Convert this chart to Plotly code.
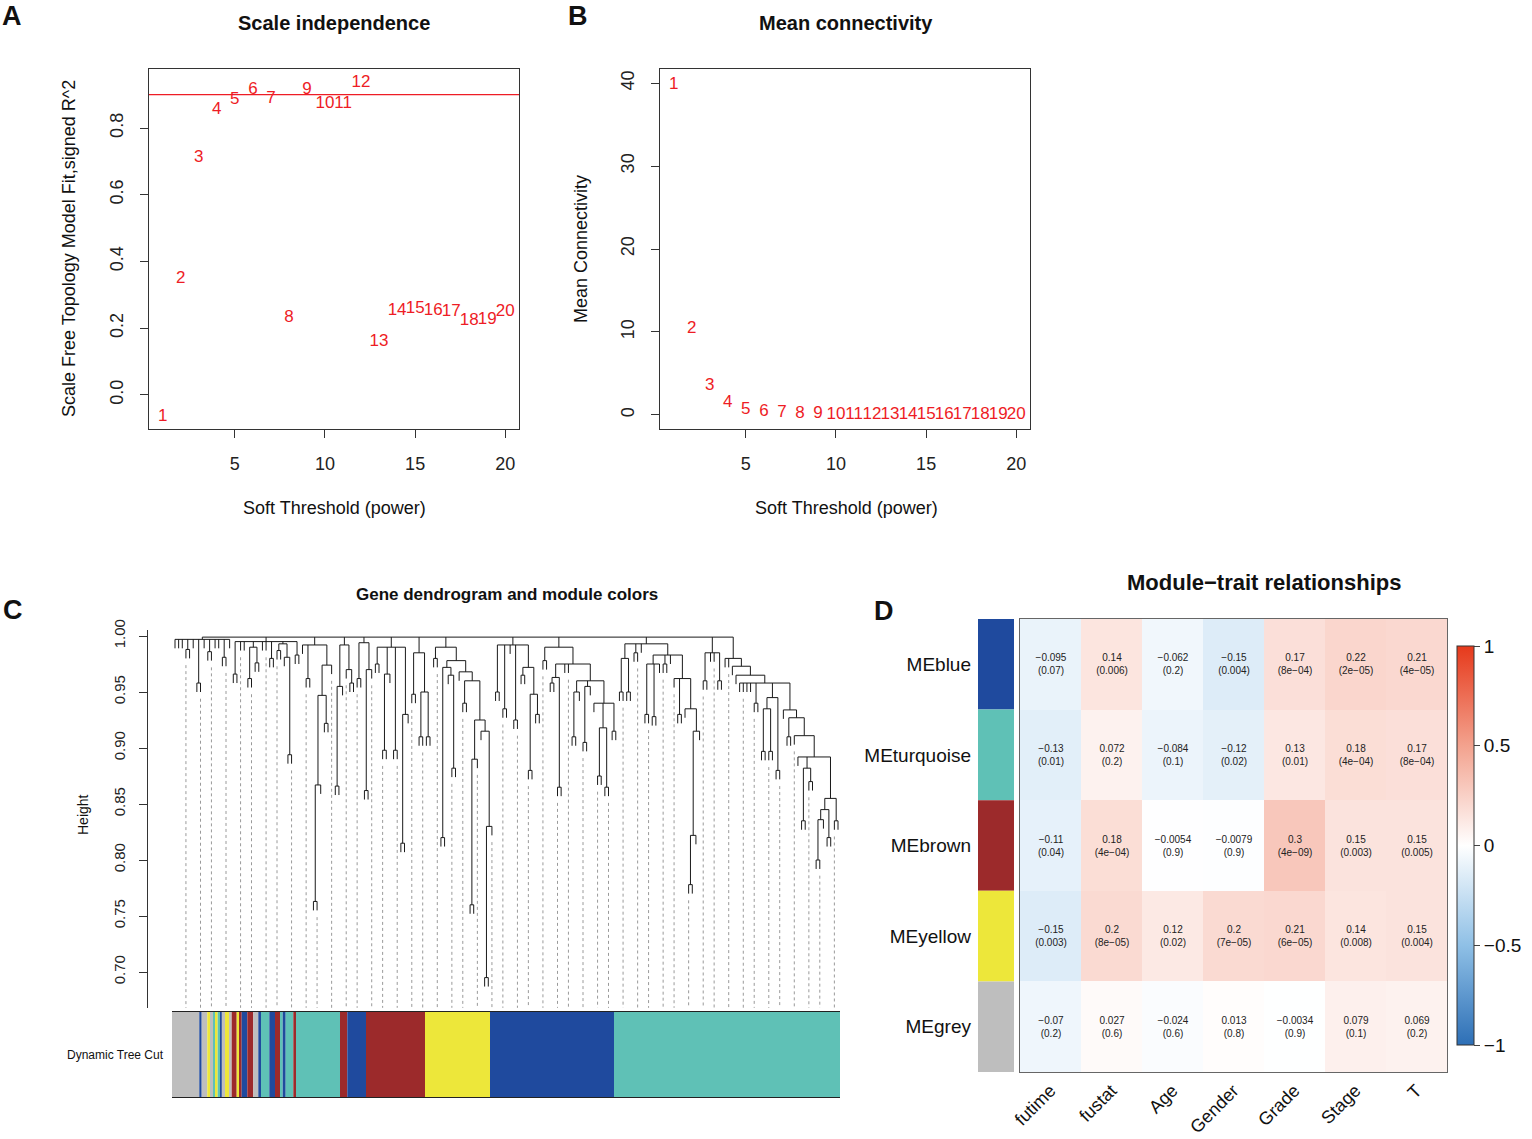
"""WGCNA summary figure: soft threshold, mean connectivity, dendrogram, module-trait heatmap."""

import plotly.graph_objects as go

W, H = 1532, 1139
FONT = "Liberation Sans"

# ---- panel A / B data (soft threshold scan)
powers = list(range(1, 21))
sft_r2 = [-0.064, 0.347, 0.712, 0.854, 0.884, 0.915, 0.887, 0.230, 0.915, 0.874,
          0.874, 0.935, 0.159, 0.253, 0.259, 0.252, 0.248, 0.222, 0.225, 0.250]
mean_k = [39.8, 10.4, 3.56, 1.41, 0.62, 0.34, 0.21, 0.13, 0.09, 0.06,
          0.05, 0.04, 0.03, 0.03, 0.02, 0.02, 0.02, 0.01, 0.01, 0.01]
r2_cut = 0.90

# ---- panel C data: gene tree (x = leaf, "(...)h" = merge at height h)
tree_groups = [
    "(x,x,x,(x,x)0.988,x,(x,x)0.958,x,(x,x)0.986,x,x,(x,x)0.981,x)0.997",
    "((x,x)0.966,x,x,((x,x)0.962,(x,x)0.976)0.990,x,x,(x,x)0.980,((x,x)0.987,(x,(x,x)0.894)0.981)0.993,(x,x)0.983)0.995",
    "(x,(x,x)0.962,((((x,x)0.763,x)0.867,(x,x)0.922)0.947,x)0.974)0.992",
    "(((x,x)0.866,x)0.955,(x,(x,x)0.958)0.97)0.992",
    "((x,x)0.962,((x,x)0.862,x)0.97)0.994",
    "((x,x)0.975,((x,x)0.898,x)0.966,(x,x)0.898,((x,x)0.815,x)0.93)0.99",
    "((x,x)0.948,((x,x)0.91,(x,x)0.91)0.95)0.985",
    "((x,x)0.98,(((x,x)0.82,(x,(x,x)0.882)0.965)0.972,(x,((x,x)0.94,(((x,x)0.76,x)0.89,(x,((x,x)0.695,x)0.83)0.915)0.925)0.96)0.968)0.978)0.99",
    "((x,x)0.95,(x,x)0.935,x,(x,x)0.925,((x,x)0.965,((x,x)0.88,(x,x)0.93)0.948)0.972)0.992",
    "((x,x)0.978,(((x,x)0.958,(x,x)0.865)0.963,x,x,(((x,x)0.91,x)0.95,((x,x)0.905,x)0.955,(x,((x,x)0.875,(x,x)0.865)0.918,(x,x)0.915)0.94)0.96)0.975)0.99",
    "(((x,x)0.95,(x,x)0.95)0.98,(x,x)0.985,x,(((x,x)0.93,(x,x)0.928,x)0.975,(x,x)0.975,x,(x,(x,x)0.93,(x,(((x,x)0.778,x)0.822,x)0.915)0.935)0.962)0.983)0.993",
    "((x,x)0.96,x,x,(x,x)0.96)0.985",
    "(x,x,(x,(x,(x,x,x,x,(x,x)0.94,(((x,x)0.897,(x,x)0.897)0.935,(x,x)0.88)0.945,(x,((x,x)0.91,(x,(x,((x,x)0.835,(x,x)0.87)0.882,((((x,x)0.80,x)0.836,(x,x)0.82)0.845,(x,x)0.835)0.855)0.892)0.911)0.927)0.934)0.958)0.965)0.973)0.98",
]
root_height = 0.999
leaf_hang = 0.008

cut_colors = ["grey", "blue", "grey", "yellow", "grey", "turquoise", "yellow", "turquoise",
              "blue", "grey", "yellow", "grey", "brown", "yellow", "brown", "blue", "brown",
              "grey", "blue", "turquoise", "blue", "brown", "turquoise", "blue", "turquoise",
              "brown", "turquoise", "brown", "blue", "brown", "yellow", "blue", "turquoise"]
cut_widths = [27.3, 2.4, 5.6, 2.7, 3.3, 1.7, 2.7, 2.3, 1.7, 3.3, 4.0, 2.7, 5.0, 2.3, 2.7,
              5.6, 6.0, 5.0, 2.7, 8.3, 5.7, 5.0, 2.7, 3.0, 7.6, 2.7, 44.0, 7.3, 18.7,
              59.0, 65.0, 124.0, 226.0]

# ---- panel D data
traits = ["futime", "fustat", "Age", "Gender", "Grade", "Stage", "T"]
modules = ["MEblue", "MEturquoise", "MEbrown", "MEyellow", "MEgrey"]
module_names = ["blue", "turquoise", "brown", "yellow", "grey"]
cor_blue = [-0.095, 0.14, -0.062, -0.15, 0.17, 0.22, 0.21]
cor_turquoise = [-0.13, 0.072, -0.084, -0.12, 0.13, 0.18, 0.17]
cor_brown = [-0.11, 0.18, -0.0054, -0.0079, 0.3, 0.15, 0.15]
cor_yellow = [-0.15, 0.2, 0.12, 0.2, 0.21, 0.14, 0.15]
cor_grey = [-0.07, 0.027, -0.024, 0.013, -0.0034, 0.079, 0.069]
p_blue = ["0.07", "0.006", "0.2", "0.004", "8e-04", "2e-05", "4e-05"]
p_turquoise = ["0.01", "0.2", "0.1", "0.02", "0.01", "4e-04", "8e-04"]
p_brown = ["0.04", "4e-04", "0.9", "0.9", "4e-09", "0.003", "0.005"]
p_yellow = ["0.003", "8e-05", "0.02", "7e-05", "6e-05", "0.008", "0.004"]
p_grey = ["0.2", "0.6", "0.6", "0.8", "0.9", "0.1", "0.2"]

MODULE_HEX = {"blue": "#1F4A9E", "turquoise": "#5FC1B6", "brown": "#9C2A2B",
              "yellow": "#EDE73A", "grey": "#BEBEBE"}
RED = "#EE1C25"


def fx(px):
    return px / W


def fy(py):
    return 1 - py / H


def parse_tree(s, i=0):
    """tiny parser for the nested tree strings"""
    if s[i] == "x":
        return None, i + 1
    i += 1
    kids = []
    while True:
        node, i = parse_tree(s, i)
        kids.append(node)
        if s[i] == ",":
            i += 1
            continue
        i += 1
        break
    j = i
    while j < len(s) and (s[j].isdigit() or s[j] == "."):
        j += 1
    return (float(s[i:j]), kids), j


root, _ = parse_tree("(" + ",".join(tree_groups) + ")" + str(root_height))

seg_x, seg_y = [], []
leaf_bottom = []


def draw(node):
    if node is None:
        leaf_bottom.append(None)
        return len(leaf_bottom) - 1, None
    h, kids = node
    placed = [draw(k) for k in kids]
    seg_x.extend([placed[0][0], placed[-1][0], None])
    seg_y.extend([h, h, None])
    for xk, hk in placed:
        if hk is None:
            hk = h - leaf_hang
            leaf_bottom[xk] = hk
        seg_x.extend([xk, xk, None])
        seg_y.extend([h, hk, None])
    return (placed[0][0] + placed[-1][0]) / 2, h


draw(root)
n_leaf = len(leaf_bottom)

# guide lines like WGCNA's addGuide
guide_x, guide_y = [], []
for k in range(50):
    idx = int(round(3 + k * (n_leaf - 5) / 49))
    guide_x.extend([idx, idx, None])
    guide_y.extend([leaf_bottom[idx] - 0.006, 0.668, None])

fig = go.Figure()

# A: scale independence
fig.add_trace(go.Scatter(x=powers, y=sft_r2, mode="text", text=[str(p) for p in powers],
                         textfont=dict(size=17, color=RED), xaxis="x", yaxis="y"))
fig.add_shape(type="line", xref="x domain", yref="y", x0=0, x1=1, y0=r2_cut, y1=r2_cut,
              line=dict(color=RED, width=1.3))

# B: mean connectivity
fig.add_trace(go.Scatter(x=powers, y=mean_k, mode="text", text=[str(p) for p in powers],
                         textfont=dict(size=17, color=RED), xaxis="x2", yaxis="y2"))

# C: dendrogram
fig.add_trace(go.Scatter(x=guide_x, y=guide_y, mode="lines", xaxis="x3", yaxis="y3",
                         line=dict(color="#9a9a9a", width=1, dash="dot"), hoverinfo="skip"))
fig.add_trace(go.Scatter(x=seg_x, y=seg_y, mode="lines", xaxis="x3", yaxis="y3",
                         line=dict(color="#1a1a1a", width=1), hoverinfo="skip"))

starts = [sum(cut_widths[:i]) for i in range(len(cut_widths))]
fig.add_trace(go.Bar(orientation="h", y=[0] * len(cut_widths), x=cut_widths, base=starts,
                     width=1, marker=dict(color=[MODULE_HEX[c] for c in cut_colors], line_width=0),
                     xaxis="x4", yaxis="y4"))

# D: module-trait heatmap
cors = [cor_blue, cor_turquoise, cor_brown, cor_yellow, cor_grey]
pvals = [p_blue, p_turquoise, p_brown, p_yellow, p_grey]
cell_text = [[(f"{c}<br>({p})").replace("-", "\u2212") for c, p in zip(rc, rp)]
             for rc, rp in zip(cors, pvals)]
colorscale = [[0.0, "#2D6FB6"], [0.25, "#8FC0E6"], [0.5, "#FFFFFF"],
              [0.75, "#F3A28E"], [1.0, "#E6391B"]]
fig.add_trace(go.Heatmap(
    z=cors, x=list(range(len(traits))), y=list(range(len(modules))),
    text=cell_text, texttemplate="%{text}", textfont=dict(size=10, color="#222"),
    colorscale=colorscale, zmin=-1, zmax=1, xaxis="x5", yaxis="y5",
    colorbar=dict(x=fx(1457), xanchor="left", y=fy(845.5), yanchor="middle",
                  len=399 / H, lenmode="fraction", thickness=17, xpad=0, ypad=0,
                  outlinewidth=1, outlinecolor="#333", ticks="outside", ticklen=6,
                  tickvals=[-1, -0.5, 0, 0.5, 1],
                  ticktext=["\u22121", "\u22120.5", "0", "0.5", "1"],
                  tickfont=dict(size=19, color="#111")),
))
fig.add_trace(go.Bar(x=[0] * len(modules), y=[1] * len(modules),
                     base=list(range(len(modules))), width=1,
                     marker=dict(color=[MODULE_HEX[m] for m in module_names], line_width=0),
                     xaxis="x6", yaxis="y6"))

box = dict(showline=True, mirror=True, linecolor="#333", linewidth=1.2,
           showgrid=False, zeroline=False)
tick18 = dict(ticks="outside", ticklen=8, tickcolor="#333", tickfont=dict(size=18, color="#222"))

# dendrogram x range so leaves sit between px 175 and 838
sp = (838 - 175) / (n_leaf - 1)
x3_range = [-(175 - 148) / sp, n_leaf - 1 + (845 - 838) / sp]

fig.update_layout(
    width=W, height=H, margin=dict(l=0, r=0, t=0, b=0, autoexpand=False),
    paper_bgcolor="white", plot_bgcolor="white", showlegend=False, barmode="overlay",
    font=dict(family=FONT, color="#111"),
    xaxis=dict(domain=[fx(149), fx(519)], range=[0.24, 20.76], tickvals=[5, 10, 15, 20],
               ticklabelstandoff=10, anchor="y", **box, **tick18),
    yaxis=dict(domain=[fy(429), fy(69)], range=[-0.102, 0.977],
               tickvals=[0, 0.2, 0.4, 0.6, 0.8], ticktext=["0.0", "0.2", "0.4", "0.6", "0.8"],
               tickangle=-90, ticklabelstandoff=10, anchor="x", **box, **tick18),
    xaxis2=dict(domain=[fx(660), fx(1030)], range=[0.24, 20.76], tickvals=[5, 10, 15, 20],
                ticklabelstandoff=10, anchor="y2", **box, **tick18),
    yaxis2=dict(domain=[fy(429), fy(69)], range=[-1.7, 41.7], tickvals=[0, 10, 20, 30, 40],
                tickangle=-90, ticklabelstandoff=10, anchor="x2", **box, **tick18),
    xaxis3=dict(domain=[fx(148), fx(845)], range=x3_range, visible=False, anchor="y3"),
    yaxis3=dict(domain=[fy(1008), fy(630)], range=[1 - 372 / 1120, 1 + 6 / 1120],
                tickvals=[0.70, 0.75, 0.80, 0.85, 0.90, 0.95, 1.00],
                ticktext=["0.70", "0.75", "0.80", "0.85", "0.90", "0.95", "1.00"],
                tickangle=-90, ticks="outside", ticklen=8, tickcolor="#333",
                tickfont=dict(size=15, color="#222"), ticklabelstandoff=8,
                showline=True, linecolor="#333", linewidth=1.2, showgrid=False,
                zeroline=False, anchor="x3", position=fx(148)),
    xaxis4=dict(domain=[fx(172), fx(840)], range=[0, sum(cut_widths)], showline=True,
                mirror=True, linecolor="#222", linewidth=1.2, showticklabels=False,
                ticks="", showgrid=False, zeroline=False, anchor="y4"),
    yaxis4=dict(domain=[fy(1097), fy(1012)], range=[-0.5, 0.5], visible=False, anchor="x4"),
    xaxis5=dict(domain=[fx(1020), fx(1447)], range=[-0.5, 6.5], tickvals=list(range(7)),
                ticktext=traits, tickangle=-45, tickfont=dict(size=18, color="#111"),
                ticks="", ticklabelstandoff=0, showline=True, mirror=True,
                linecolor="#666", linewidth=1, showgrid=False, zeroline=False, anchor="y5"),
    yaxis5=dict(domain=[fy(1072), fy(619)], range=[4.5, -0.5], showticklabels=False,
                ticks="", showline=True, mirror=True, linecolor="#666", linewidth=1,
                showgrid=False, zeroline=False, anchor="x5"),
    xaxis6=dict(domain=[fx(978), fx(1014)], range=[-0.5, 0.5], visible=False, anchor="y6"),
    yaxis6=dict(domain=[fy(1072), fy(619)], range=[5, 0],
                tickvals=[0.5, 1.5, 2.5, 3.5, 4.5], ticktext=modules, ticks="",
                tickfont=dict(size=19, color="#111"), ticklabelstandoff=6,
                showline=False, showgrid=False, zeroline=False, anchor="x6"),
)


def note(text, x, y, size, angle=0, bold=False):
    fig.add_annotation(text=f"<b>{text}</b>" if bold else text, x=fx(x), y=fy(y),
                       xref="paper", yref="paper", showarrow=False, textangle=angle,
                       font=dict(size=size, color="#111"), xanchor="center", yanchor="middle")


note("A", 12, 16, 27, bold=True)
note("B", 578, 16, 27, bold=True)
note("C", 13, 610, 27, bold=True)
note("D", 884, 611, 27, bold=True)
note("Scale independence", 334, 23, 20, bold=True)
note("Mean connectivity", 846, 23, 20, bold=True)
note("Soft Threshold (power)", 334, 508, 18)
note("Soft Threshold (power)", 846, 508, 18)
note("Scale Free Topology Model Fit,signed R^2", 69, 249, 18, angle=-90)
note("Mean Connectivity", 581, 249, 18, angle=-90)
note("Gene dendrogram and module colors", 507, 594, 17, bold=True)
note("Height", 83, 815, 14, angle=-90)
note("Dynamic Tree Cut", 115, 1055, 12)
note("Module\u2212trait relationships", 1264, 582, 22, bold=True)

# page margin off so the figure sits at the window's top-left corner; no toolbar
fig.write_html("out.html", config={"displayModeBar": False},
               post_script="document.body.style.margin='0px';")
